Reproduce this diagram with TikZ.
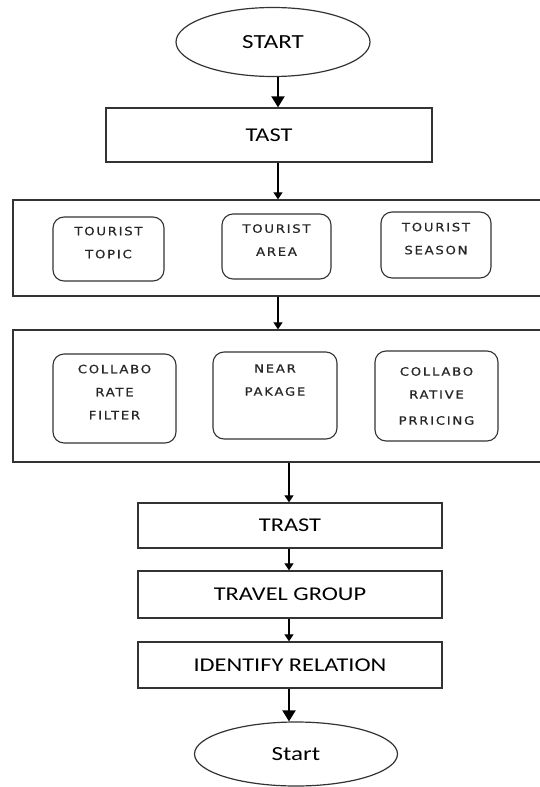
\documentclass[tikz,border=0pt]{standalone}
\usepackage{fontspec}
\setmainfont[FakeStretch=1.25]{Carlito}
\newfontfamily\boxfont[LetterSpace=15,FakeStretch=1.15,FakeBold=0.6]{DejaVu Sans}
\usetikzlibrary{shapes.geometric,arrows.meta}

\begin{document}
\begin{tikzpicture}[x=1pt,y=-1pt,
    term/.style={ellipse, draw=black!80, line width=1.2pt, inner sep=0pt,
      font=\fontsize{20}{24}\selectfont},
    stepbox/.style={rectangle, draw=black!80, line width=1.3pt, inner sep=0pt,
      minimum width=304pt, font=\fontsize{19.5}{24}\selectfont},
    groupbox/.style={rectangle, draw=black!80, line width=1.3pt, inner sep=0pt,
      minimum width=540pt},
    itembox/.style={rectangle, rounded corners=11pt, draw=black!80, line width=1.1pt,
      inner sep=0pt, align=center, text=black!85, font=\boxfont\fontsize{11.5}{23}\selectfont},
    bigarrow/.style={-{Triangle[length=11pt,width=13pt]}, line width=2pt},
    arrow/.style={-{Triangle[length=7pt,width=9pt]}, line width=1.2pt}]
  \useasboundingbox (0,0) rectangle (540,787);
  \clip (0,0) rectangle (540,787);

  % top part
  \node[term, minimum width=194pt, minimum height=69pt] (start) at (273,42) {START};
  \node[stepbox, minimum width=326pt, minimum height=54pt] (tast) at (269,135) {TAST};

  % first group
  \node[groupbox, minimum height=96pt] (group1) at (283,248) {};
  \node[itembox, minimum width=111pt, minimum height=64pt] (topic) at (108.5,249)
    {TOURIST\\TOPIC\\[-10pt]\mbox{}};
  \node[itembox, minimum width=109pt, minimum height=65pt] (area) at (276.5,246.5)
    {TOURIST\\AREA\\[-10pt]\mbox{}};
  \node[itembox, minimum width=110pt, minimum height=66pt] (season) at (436,245)
    {TOURIST\\SEASON\\[-10pt]\mbox{}};

  % second group
  \node[groupbox, minimum height=132pt] (group2) at (283,396) {};
  \node[itembox, minimum width=123pt, minimum height=89pt] (filter) at (114.5,398.5)
    {COLLABO\\RATE\\FILTER\\[-10pt]\mbox{}};
  \node[itembox, minimum width=124pt, minimum height=87pt] (pakage) at (275,395.5)
    {NEAR\\PAKAGE\\[8pt]\mbox{}};
  \node[itembox, minimum width=123pt, minimum height=90pt] (pricing) at (436.5,396)
    {COLLABO\\RATIVE\\[3pt]PRRICING};

  % lower part
  \node[stepbox, minimum height=45pt] (trast) at (290,525.5) {TRAST};
  \node[stepbox, minimum height=47pt] (travel) at (290,594.5) {TRAVEL GROUP};
  \node[stepbox, minimum height=46pt] (relation) at (290,665) {IDENTIFY RELATION};
  \node[term, minimum width=203pt, minimum height=64pt] (stop) at (296,754) {Start};

  % connectors
  \coordinate (upper) at (278,0);
  \coordinate (lower) at (289,0);
  \draw[bigarrow] (start.south -| upper) -- (tast.north -| upper);
  \draw[arrow] (tast.south -| upper) -- (group1.north -| upper);
  \draw[arrow] (group1.south -| upper) -- (group2.north -| upper);
  \draw[arrow] (group2.south -| lower) -- (trast.north -| lower);
  \draw[arrow] (trast.south -| lower) -- (travel.north -| lower);
  \draw[arrow] (travel.south -| lower) -- (relation.north -| lower);
  \draw[bigarrow] (relation.south -| lower) -- (stop.north -| lower);
\end{tikzpicture}
\end{document}
